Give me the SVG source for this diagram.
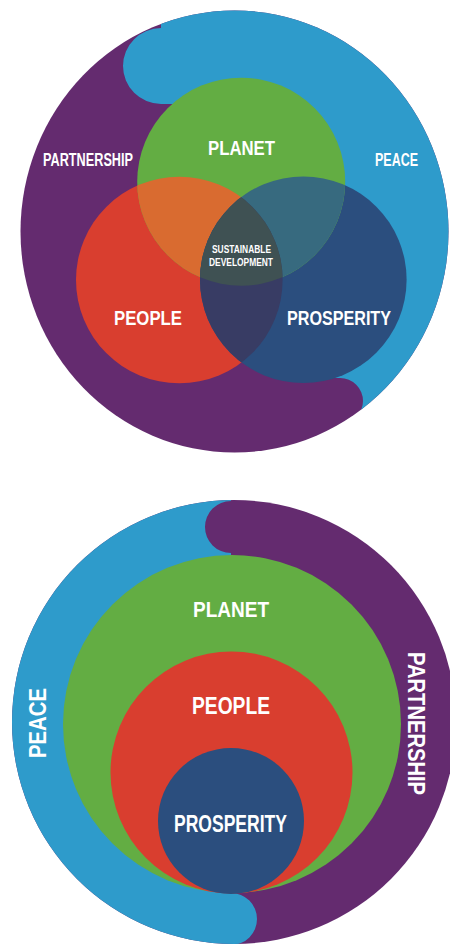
<svg xmlns="http://www.w3.org/2000/svg" width="450" height="944" viewBox="0 0 450 944">
<style>
.t{font-family:"Liberation Sans Narrow","Liberation Sans",Arial,sans-serif;font-weight:bold;fill:#ffffff;text-anchor:middle}
.purple{fill:#642b6f}.lblue{fill:#2e9bcb}.green{fill:#63ad43}.red{fill:#d93e2f}.dblue{fill:#2b4e7e}
</style>
<defs>
<clipPath id="outerTop"><ellipse cx="234.5" cy="231.5" rx="214" ry="221"/></clipPath>
<clipPath id="outerBot"><circle cx="234" cy="722" r="222"/></clipPath>
<clipPath id="cPlanet"><circle cx="241.2" cy="181.7" r="104"/></clipPath>
<clipPath id="cPeople"><circle cx="179.3" cy="280" r="103.3"/></clipPath>
</defs>
<rect width="450" height="944" fill="#ffffff"/>

<!-- Top diagram -->
<g id="top-ring">
<ellipse class="purple" cx="234.5" cy="231.5" rx="214" ry="221"/>
<path class="lblue" clip-path="url(#outerTop)" d="M161 -10 L161 28 A38 38 0 0 0 161 104 L300 104 L300 378 L340 378 A23 23 0 0 1 340 424 L340 470 L470 470 L470 -10 Z"/>
</g>
<g id="top-people"><circle class="red" cx="179.3" cy="280" r="103.3"/></g>
<g id="top-prosperity"><circle class="dblue" cx="303.3" cy="279.7" r="103.3"/></g>
<g id="top-planet"><circle class="green" cx="241.2" cy="181.7" r="104"/></g>
<g id="top-overlaps">
<circle cx="179.3" cy="280" r="103.3" fill="#d96b30" clip-path="url(#cPlanet)"/>
<circle cx="303.3" cy="279.7" r="103.3" fill="#376a7f" clip-path="url(#cPlanet)"/>
<circle cx="303.3" cy="279.7" r="103.3" fill="#383c64" clip-path="url(#cPeople)"/>
<g clip-path="url(#cPlanet)"><circle cx="303.3" cy="279.7" r="103.3" fill="#3f5153" clip-path="url(#cPeople)"/></g>
</g>
<g id="top-labels">
<text class="t" x="88" y="166" font-size="17.5" textLength="90" lengthAdjust="spacingAndGlyphs">PARTNERSHIP</text>
<text class="t" x="396.5" y="165.5" font-size="17.5" textLength="43" lengthAdjust="spacingAndGlyphs">PEACE</text>
<text class="t" x="241.5" y="155" font-size="21" textLength="67" lengthAdjust="spacingAndGlyphs">PLANET</text>
<text class="t" x="241.5" y="253" font-size="11.6" textLength="59" lengthAdjust="spacingAndGlyphs">SUSTAINABLE</text>
<text class="t" x="241" y="266" font-size="11.6" textLength="64" lengthAdjust="spacingAndGlyphs">DEVELOPMENT</text>
<text class="t" x="148" y="325" font-size="21" textLength="68" lengthAdjust="spacingAndGlyphs">PEOPLE</text>
<text class="t" x="339" y="325" font-size="21" textLength="104" lengthAdjust="spacingAndGlyphs">PROSPERITY</text>
</g>

<!-- Bottom diagram -->
<g id="bottom-ring">
<circle class="purple" cx="234" cy="722" r="222"/>
<path class="lblue" clip-path="url(#outerBot)" d="M231 480 L231 501 A26 26 0 0 0 231 553 L231 893 A26 26 0 0 1 231 945 L231 960 L-20 960 L-20 480 Z"/>
</g>
<g id="bottom-planet"><circle class="green" cx="232" cy="724" r="169"/></g>
<g id="bottom-people"><circle class="red" cx="231.5" cy="772.5" r="121"/></g>
<g id="bottom-prosperity"><circle class="dblue" cx="231" cy="821" r="73"/></g>
<g id="bottom-labels">
<text class="t" x="231" y="616.7" font-size="22.5" textLength="76" lengthAdjust="spacingAndGlyphs">PLANET</text>
<text class="t" x="231" y="714" font-size="23" textLength="78" lengthAdjust="spacingAndGlyphs">PEOPLE</text>
<text class="t" x="230.5" y="832" font-size="23" textLength="113" lengthAdjust="spacingAndGlyphs">PROSPERITY</text>
<text class="t" transform="translate(46,723) rotate(-90)" font-size="24" textLength="70" lengthAdjust="spacingAndGlyphs">PEACE</text>
<text class="t" transform="translate(408,723.5) rotate(90)" font-size="24" textLength="143" lengthAdjust="spacingAndGlyphs">PARTNERSHIP</text>
</g>
</svg>
